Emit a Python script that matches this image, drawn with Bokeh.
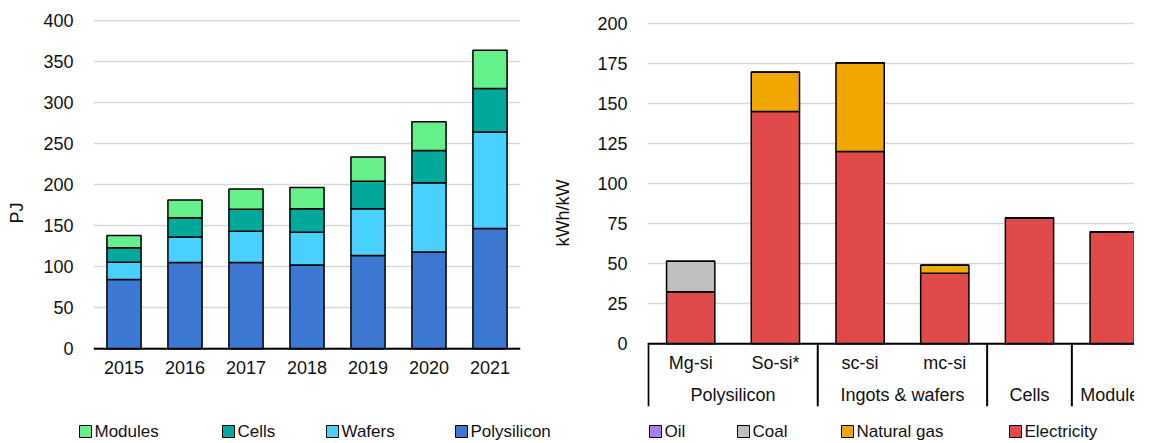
from bokeh.plotting import figure
from bokeh.models import (ColumnDataSource, FactorRange, Range1d, FixedTicker, LinearAxis, Span)
from bokeh.layouts import row, column
from bokeh.core.properties import value
from bokeh.embed import file_html
from bokeh.resources import INLINE

FONT = "Liberation Sans"
TXT = "#111111"

# ---------------- Left chart data (PJ) ----------------
years = ["2015", "2016", "2017", "2018", "2019", "2020", "2021"]
polysilicon = [84.5, 105, 105, 102, 113.5, 118, 146.5]
wafers = [21, 31, 38, 40, 57, 84, 117.5]
cells = [17.5, 23.5, 27, 28.5, 33.5, 39.5, 53]
modules = [15, 21.5, 24.5, 26, 29.5, 35, 46.5]
left_series = ["Polysilicon", "Wafers", "Cells", "Modules"]
left_colors = ["#3c78d2", "#48d0ff", "#00a99a", "#66f08c"]
left_ticks = [0, 50, 100, 150, 200, 250, 300, 350, 400]

# ---------------- Right chart data (kWh/kW) ----------------
stages = ["Polysilicon", "Polysilicon", "Ingots & wafers", "Ingots & wafers", "Cells", "Modules"]
products = ["Mg-si", "So-si*", "sc-si", "mc-si", "", ""]
electricity = [32.5, 145, 120, 44, 78.5, 70]
natural_gas = [0, 24.5, 55.5, 5, 0, 0]
coal = [19, 0, 0, 0, 0, 0]
oil = [0, 0, 0, 0, 0, 0]
right_series = ["Electricity", "Natural gas", "Coal", "Oil"]
right_colors = ["#e04a4a", "#f0a800", "#bfbfbf", "#a77fef"]
right_ticks = [0, 25, 50, 75, 100, 125, 150, 175, 200]

# legend order (as shown in the reference legends)
left_legend_order = ["Modules", "Cells", "Wafers", "Polysilicon"]
right_legend_order = ["Oil", "Coal", "Natural gas", "Electricity"]

# layout constants (pixels)
CHART_H = 411
TOP_B = 19
BOT_B = 5
LEG_H = 31
W1 = 540
W2 = 594
left_legend_px = [79, 222, 326, 455]      # swatch left edges within legend strip
right_legend_px = [649, 737, 841, 1009]


def style_common(p):
    p.outline_line_color = None
    p.background_fill_color = "white"
    p.border_fill_color = "white"
    p.xgrid.grid_line_color = None


def title_axis(text, bounds, standoff):
    return LinearAxis(axis_label=text, bounds=bounds, ticker=FixedTicker(ticks=[]),
                      axis_line_color=None, major_tick_line_color=None,
                      minor_tick_line_color=None, axis_label_standoff=standoff,
                      axis_label_text_font=FONT, axis_label_text_font_size="18px",
                      axis_label_text_font_style="normal", axis_label_text_color=TXT)


def style_yaxis(ax, ticks):
    ax.ticker = FixedTicker(ticks=ticks)
    ax.axis_line_color = None
    ax.major_tick_line_color = None
    ax.minor_tick_line_color = None
    ax.major_label_standoff = 14
    ax.major_label_text_font = FONT
    ax.major_label_text_font_size = "18px"
    ax.major_label_text_color = TXT


# ================= Left figure =================
p1 = figure(x_range=FactorRange(*years), y_range=Range1d(-70.2, 400.85),
            width=W1, height=CHART_H,
            min_border_left=93, min_border_right=20, min_border_top=TOP_B,
            min_border_bottom=BOT_B, x_axis_location=None,
            output_backend="svg", toolbar_location=None)
style_common(p1)

style_yaxis(p1.yaxis[0], left_ticks)
p1.ygrid.ticker = FixedTicker(ticks=left_ticks)
p1.ygrid.grid_line_color = "#d9d9d9"
p1.ygrid.grid_line_width = 1.5
p1.add_layout(title_axis("PJ", (376, 400), 14), "left")

src1 = ColumnDataSource(dict(year=years, Polysilicon=polysilicon, Wafers=wafers,
                             Cells=cells, Modules=modules))
p1.vbar_stack(left_series, x="year", width=0.56, fill_color=left_colors,
              line_color="black", line_width=1.5, source=src1)

# category axis line and labels
p1.add_layout(Span(location=0, dimension="width", line_color="black", line_width=2))
YEAR_Y = -22.8
src1b = ColumnDataSource(dict(x=years, y=[YEAR_Y] * len(years), t=years))
p1.text(x="x", y="y", text="t", source=src1b, text_font=value(FONT),
        text_font_size="18px", text_align="center", text_baseline="middle", text_color=TXT)

# ================= Right figure =================
CAT_PX = 84.7
FRAME_W2 = W2 - 107
x_start = 0.49
p2 = figure(x_range=Range1d(x_start, x_start + FRAME_W2 / CAT_PX),
            y_range=Range1d(-39.15, 202.5),
            width=W2, height=CHART_H,
            min_border_left=107, min_border_right=0, min_border_top=TOP_B,
            min_border_bottom=BOT_B, x_axis_location=None,
            output_backend="svg", toolbar_location=None)
style_common(p2)

xs = list(range(1, len(products) + 1))
src2 = ColumnDataSource({"x": xs, "Electricity": electricity, "Natural gas": natural_gas,
                         "Coal": coal, "Oil": oil})
p2.vbar_stack(right_series, x="x", width=0.57, fill_color=right_colors,
              line_color="black", line_width=1.5, source=src2)

style_yaxis(p2.yaxis[0], right_ticks)
p2.ygrid.ticker = FixedTicker(ticks=right_ticks)
p2.ygrid.grid_line_color = "#d9d9d9"
p2.ygrid.grid_line_width = 1.5
p2.add_layout(title_axis("kWh/kW", (152, 200), 22), "left")

# baseline
x_end = p2.x_range.end
p2.segment(x0=[x_start], y0=[0], x1=[x_end], y1=[0], line_color="black", line_width=2)

# group spans from the stage list
groups, sizes = [], []
for s in stages:
    if groups and groups[-1] == s:
        sizes[-1] += 1
    else:
        groups.append(s)
        sizes.append(1)
bounds_x = [0.5]
for n in sizes:
    bounds_x.append(bounds_x[-1] + n)
group_centers = [(bounds_x[i] + bounds_x[i + 1]) / 2 for i in range(len(groups))]

y_bottom = p2.y_range.start
p2.segment(x0=bounds_x, y0=[0] * len(bounds_x), x1=bounds_x, y1=[y_bottom] * len(bounds_x),
           line_color="black", line_width=2)

SUB_Y = -12.0
GROUP_Y = -31.7
sub_x = [x for x, t in zip(xs, products) if t]
sub_t = [t for t in products if t]
p2.text(x=sub_x, y=[SUB_Y] * len(sub_x), text=sub_t, text_font=value(FONT),
        text_font_size="18px", text_align="center", text_baseline="middle", text_color=TXT)
p2.text(x=group_centers, y=[GROUP_Y] * len(groups), text=groups, text_font=value(FONT),
        text_font_size="18px", text_align="center", text_baseline="middle", text_color=TXT)

# ================= Legend strip =================
LW = W1 + W2
p3 = figure(x_range=Range1d(0, LW), y_range=Range1d(0, LEG_H), width=LW, height=LEG_H,
            min_border=0, x_axis_location=None, y_axis_location=None,
            output_backend="svg", toolbar_location=None)
p3.outline_line_color = None
p3.grid.grid_line_color = None
p3.background_fill_color = "white"
p3.border_fill_color = "white"

color_of = dict(zip(left_series, left_colors))
color_of.update(dict(zip(right_series, right_colors)))
labels = left_legend_order + right_legend_order
lefts = left_legend_px + right_legend_px
SW = 12
ymid = 11
p3.rect(x=[l + SW / 2 for l in lefts], y=[ymid] * len(lefts), width=SW, height=SW,
        fill_color=[color_of[k] for k in labels], line_color="black", line_width=1)
p3.text(x=[l + SW + 3 for l in lefts], y=[ymid] * len(lefts), text=labels,
        text_font=value(FONT), text_font_size="17px", text_align="left",
        text_baseline="middle", text_color=TXT)

layout = column(row(p1, p2), p3)
open("out.html", "w").write(file_html(layout, INLINE))
